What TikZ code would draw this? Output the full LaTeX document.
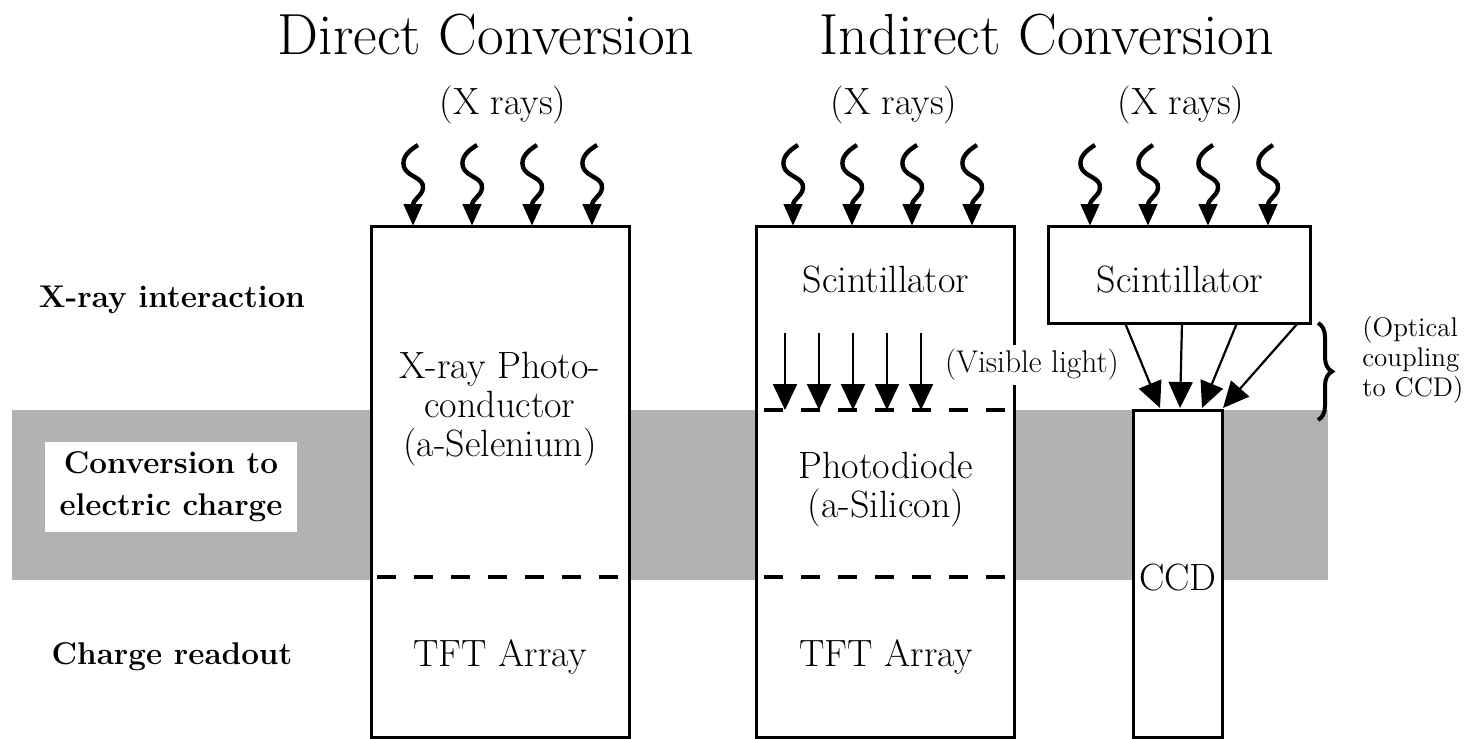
\documentclass[tikz,border=0pt]{standalone}
\usetikzlibrary{arrows.meta,decorations.pathreplacing}
\definecolor{bandgray}{RGB}{178,178,178}
\tikzset{
  boxline/.style={draw=black, line width=1.5pt, fill=white},
  dashline/.style={line width=2pt, dash pattern=on 9.5pt off 9pt},
  wavy/.style={line width=2.2pt, -{Triangle[length=11pt,width=9pt]}},
  lightarrow/.style={line width=1.1pt, -{Triangle[length=13pt,width=12pt]}},
  body/.style={font=\fontsize{19}{19.5}\selectfont, align=center, inner sep=1pt},
  small/.style={font=\fontsize{13.5}{15}\selectfont, align=left, inner sep=1pt},
  title/.style={font=\fontsize{29}{30}\selectfont, inner sep=1pt},
  rowlabel/.style={font=\fontsize{15.7}{21}\selectfont\bfseries, align=center, inner sep=1pt},
}
\begin{document}
\begin{tikzpicture}[x=0.5pt,y=-0.5pt]
\useasboundingbox (0,0) rectangle (1479,739);
% gray band
\fill[bandgray] (12,410) rectangle (1328,580);
% boxes
\node[boxline, minimum width=129pt, minimum height=255.5pt, inner sep=0pt] (box1) at (500,481.5) {};
\node[boxline, minimum width=129pt, minimum height=255.5pt, inner sep=0pt] (box2) at (885,481.5) {};
\node[boxline, minimum width=131pt, minimum height=48.5pt, inner sep=0pt] (scint) at (1179,274.5) {};
\node[boxline, minimum width=44.5pt, minimum height=163.5pt, inner sep=0pt] (ccd) at (1177.5,573.5) {};
% dashed layer boundaries
\draw[dashline] (377,577) -- (627,577);
\draw[dashline] (764,577) -- (1012,577);
\draw[dashline] (764,410) -- (1012,410);
% titles
\node[title] (t1) at (486,35) {Direct Conversion};
\node[title] (t2) at (1047,35) {Indirect Conversion};
% x rays labels
\node[body] (xr1) at (503,105) {(X rays)};
\node[body] (xr2) at (894,105) {(X rays)};
\node[body] (xr3) at (1181,105) {(X rays)};
% wavy x-ray arrows
\foreach \x in {413,472,532,592, 793,852,912,972, 1090,1148,1208,1268} {
  \draw[wavy] (\x+5,145) .. controls (\x-3,150) and (\x-12,157) .. (\x-9,167)
     .. controls (\x-6,177) and (\x+11,177) .. (\x+10,188)
     .. controls (\x+9,197) and (\x,198) .. (\x,206) -- (\x,226);
}
% row labels
\node[rowlabel] (l1) at (172,300) {X-ray interaction};
\node[rowlabel, fill=white, inner xsep=7pt, inner ysep=5pt] (l2) at (171,487) {Conversion to\\electric charge};
\node[rowlabel] (l3) at (172,657) {Charge readout};
% box texts
\node[body] (pc) at (500,409) {X-ray Photo-\\conductor\\(a-Selenium)};
\node[body] (tft1) at (500,657) {TFT Array};
\node[body] (tft2) at (886,657) {TFT Array};
\node[body] (sc1) at (886,280) {Scintillator};
\node[body] (sc2) at (1180,280) {Scintillator};
\node[body] (pd) at (886,490) {Photodiode\\(a-Silicon)};
\node[body] (ccdt) at (1178,578) {CCD};
% visible light arrows
\foreach \x in {785,819,853,887,921} {
  \draw[lightarrow] (\x,333) -- (\x,410);
}
\node[body, font=\fontsize{15.7}{17}\selectfont, fill=white, inner sep=2pt] (vis) at (1032,365) {(Visible light)};
% optical coupling arrows
\coordinate (s1) at (1125,323);
\coordinate (s2) at (1182,323);
\coordinate (s3) at (1237,323);
\coordinate (s4) at (1298,323);
\coordinate (c1) at (1160,408);
\coordinate (c2) at (1180,408);
\coordinate (c3) at (1202,408);
\coordinate (c4) at (1223,408);
\draw[lightarrow] (s1) -- (c1);
\draw[lightarrow] (s2) -- (c2);
\draw[lightarrow] (s3) -- (c3);
\draw[lightarrow] (s4) -- (c4);
% brace
\draw[line width=2pt, decorate, decoration={brace, amplitude=7pt}] (1318,323) -- (1318,420);
\node[small, anchor=west] (opt) at (1360,360) {(Optical\\coupling\\to CCD)};
\end{tikzpicture}
\end{document}
